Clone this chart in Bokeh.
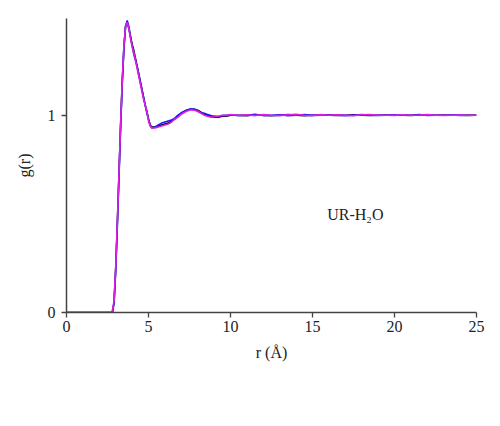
from bokeh.embed import file_html
from bokeh.models import ColumnDataSource, FixedTicker, Label, Range1d
from bokeh.plotting import figure
from bokeh.resources import INLINE

# radial distance r (Angstrom)
r = [0.0, 1.0, 2.0, 2.7, 2.8, 2.9, 3.0, 3.1, 3.2, 3.3,
     3.4, 3.5, 3.6, 3.7, 3.8, 3.9, 4.0, 4.1, 4.2, 4.3,
     4.4, 4.5, 4.6, 4.7, 4.8, 4.9, 5.0, 5.1, 5.2, 5.4,
     5.6, 5.8, 6.0, 6.2, 6.4, 6.6, 6.8, 7.0, 7.2, 7.4,
     7.6, 7.8, 8.0, 8.2, 8.4, 8.6, 8.8, 9.0, 9.25, 9.5,
     9.75, 10.0, 10.5, 11.0, 11.5, 12.0, 12.5, 13.0, 13.5, 14.0,
     14.5, 15.0, 15.5, 16.0, 16.5, 17.0, 17.5, 18.0, 18.5, 19.0,
     19.5, 20.0, 20.5, 21.0, 21.5, 22.0, 22.5, 23.0, 23.5, 24.0,
     24.5, 25.0]

g_black = [0.0, 0.0, 0.0, 0.0, 0.0, 0.05, 0.22, 0.45, 0.70, 0.95,
           1.17, 1.34, 1.45, 1.47, 1.44, 1.40, 1.36, 1.33, 1.29, 1.25,
           1.21, 1.17, 1.13, 1.09, 1.05, 1.02, 0.98, 0.95, 0.94, 0.94,
           0.945, 0.95, 0.955, 0.96, 0.97, 0.98, 0.995, 1.01, 1.02, 1.027,
           1.03, 1.03, 1.025, 1.015, 1.005, 1.0, 0.995, 0.99, 0.99, 0.995,
           0.995, 1.0, 1.0, 0.998, 1.002, 1.0, 0.997, 1.0, 1.003, 1.0,
           0.998, 1.0, 1.002, 1.0, 0.999, 1.0, 1.002, 1.0, 0.999, 1.0,
           1.001, 1.0, 1.0, 0.999, 1.001, 1.0, 1.0, 1.001, 1.0, 1.0,
           0.999, 1.0]

g_blue = [0.0, 0.0, 0.0, 0.0, 0.0, 0.05, 0.21, 0.44, 0.69, 0.94,
          1.16, 1.34, 1.45, 1.48, 1.45, 1.40, 1.35, 1.31, 1.28, 1.25,
          1.21, 1.17, 1.13, 1.09, 1.05, 1.01, 0.98, 0.95, 0.935, 0.94,
          0.95, 0.96, 0.965, 0.97, 0.975, 0.985, 1.0, 1.012, 1.02, 1.028,
          1.032, 1.03, 1.02, 1.012, 1.01, 1.004, 0.998, 0.995, 0.993, 0.998,
          1.0, 1.002, 0.997, 1.0, 1.004, 0.998, 1.0, 1.002, 0.998, 1.0,
          1.003, 0.999, 1.0, 1.002, 1.0, 0.998, 1.0, 1.003, 1.0, 0.999,
          1.0, 1.002, 1.0, 1.0, 1.003, 0.999, 1.0, 1.0, 1.001, 0.999,
          1.0, 1.0]

g_magenta = [0.0, 0.0, 0.0, 0.0, 0.01, 0.06, 0.23, 0.46, 0.71, 0.96,
             1.18, 1.35, 1.45, 1.47, 1.44, 1.39, 1.35, 1.32, 1.28, 1.24,
             1.20, 1.16, 1.12, 1.08, 1.05, 1.02, 0.97, 0.945, 0.935, 0.935,
             0.94, 0.945, 0.95, 0.955, 0.965, 0.98, 0.99, 1.005, 1.015, 1.022,
             1.027, 1.025, 1.02, 1.01, 1.0, 0.995, 0.99, 0.992, 0.995, 1.0,
             0.998, 1.003, 1.0, 1.002, 0.998, 1.003, 1.0, 0.998, 1.002, 1.004,
             1.0, 0.998, 1.003, 1.0, 1.002, 1.0, 0.998, 1.002, 1.003, 1.0,
             1.0, 0.999, 1.002, 1.0, 1.001, 1.003, 1.0, 0.999, 1.0, 1.001,
             1.0, 1.0]

x_ticks = [0, 5, 10, 15, 20, 25]
y_ticks = [0, 1]

serif = "Liberation Serif"
axis_color = "#444444"
text_color = "#222222"

source = ColumnDataSource(dict(r=r, black=g_black, blue=g_blue, magenta=g_magenta))

p = figure(width=500, height=426, output_backend="svg", toolbar_location=None,
           x_range=Range1d(0, 25), y_range=Range1d(0, 1.49),
           x_axis_label="r (Å)", y_axis_label="g(r)",
           min_border_left=66, min_border_right=24,
           min_border_top=18, min_border_bottom=114)
p.outline_line_color = None
p.xgrid.visible = False
p.ygrid.visible = False

p.line("r", "black", source=source, line_color="black", line_width=1.6)
p.line("r", "blue", source=source, line_color="#1a1aff", line_width=1.6)
p.line("r", "magenta", source=source, line_color="#e020e0", line_width=1.6)

for ax, ticks in ((p.xaxis, x_ticks), (p.yaxis, y_ticks)):
    ax.ticker = FixedTicker(ticks=ticks)
    ax.minor_tick_line_color = None
    ax.major_tick_in = 0
    ax.major_tick_out = 5
    ax.axis_line_color = axis_color
    ax.axis_line_width = 1.5
    ax.major_tick_line_color = axis_color
    ax.major_tick_line_width = 1.3
    ax.major_label_text_font = serif
    ax.major_label_text_font_size = "16px"
    ax.major_label_text_color = text_color
    ax.axis_label_text_font = serif
    ax.axis_label_text_font_size = "16px"
    ax.axis_label_text_font_style = "normal"
    ax.axis_label_text_color = text_color
p.yaxis.major_label_standoff = 6
p.xaxis.major_label_standoff = 3
p.xaxis.axis_label_standoff = 9
p.yaxis.axis_label_standoff = 12

p.add_layout(Label(x=15.9, y=0.497, text="UR-H₂O", text_align="left",
                   text_baseline="middle", text_font=serif,
                   text_font_size="16px", text_color=text_color))

open("out.html", "w").write(file_html(p, INLINE))
